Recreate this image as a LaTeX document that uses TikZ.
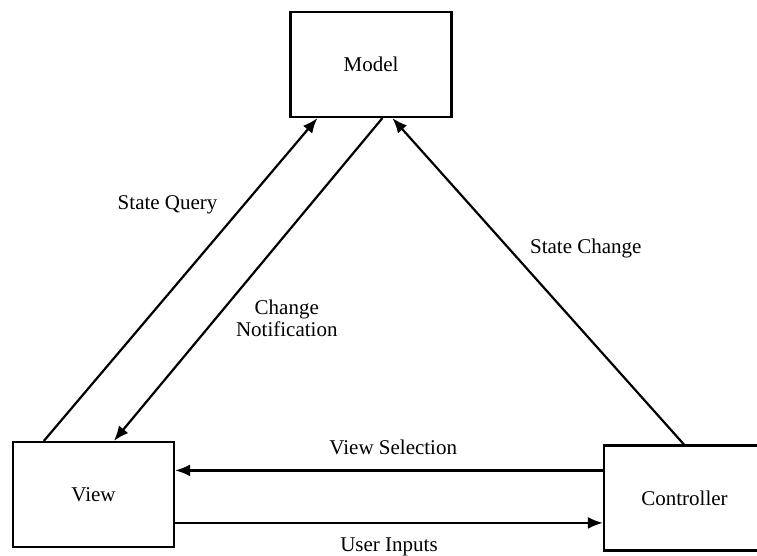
\documentclass[tikz,border=0pt]{standalone}
\usepackage{fontspec}
\setmainfont{Liberation Serif}
\usepackage{tikz}
\usetikzlibrary{arrows.meta}
\usetikzlibrary{positioning}

\begin{document}
\begin{tikzpicture}[->,>={Latex[length=15pt,width=12pt]},x=1pt,y=-1pt,line width=2.2pt,
                    block/.style={draw,rectangle,minimum width=161pt,minimum height=105pt,
                                  inner sep=0pt,font=\fontsize{21}{22}\selectfont},
                    lbl/.style={inner sep=0pt,font=\fontsize{21}{22}\selectfont,align=center}]
                \useasboundingbox (0,0) rectangle (757,556);
                \node[block] (model) at (371,64.5) {Model};
                \node[block] (view) at (93.5,494.5) {View};
                \node[block] (ctrl) at (684.5,498) {Controller};

                % attachment points on the box edges
                \coordinate (vsel) at ([yshift=-26pt]ctrl.north west);
                \coordinate (uin) at ([yshift=-82pt]view.north east);

                \path[every node/.style={lbl}]
                    ([xshift=32pt]view.north west)
                    edge node [pos=0.73, anchor=east, xshift=-25pt] {State Query} ([xshift=28pt]model.south west)

                    ([xshift=93pt]model.south west)
                    edge node [pos=0.62, anchor=west, xshift=19pt] {Change\\Notification} ([xshift=102pt]view.north west)

                    ([xshift=81pt]ctrl.north west)
                    edge node [pos=0.6, anchor=west, xshift=20pt] {State Change} ([xshift=103pt]model.south west)

                    (vsel)
                    edge node [pos=0.49, anchor=south, yshift=14pt] {View Selection} (vsel -| view.east)

                    (uin)
                    edge node [pos=0.5, anchor=north, yshift=-14pt] {User Inputs} (uin -| ctrl.west);
\end{tikzpicture}
\end{document}
